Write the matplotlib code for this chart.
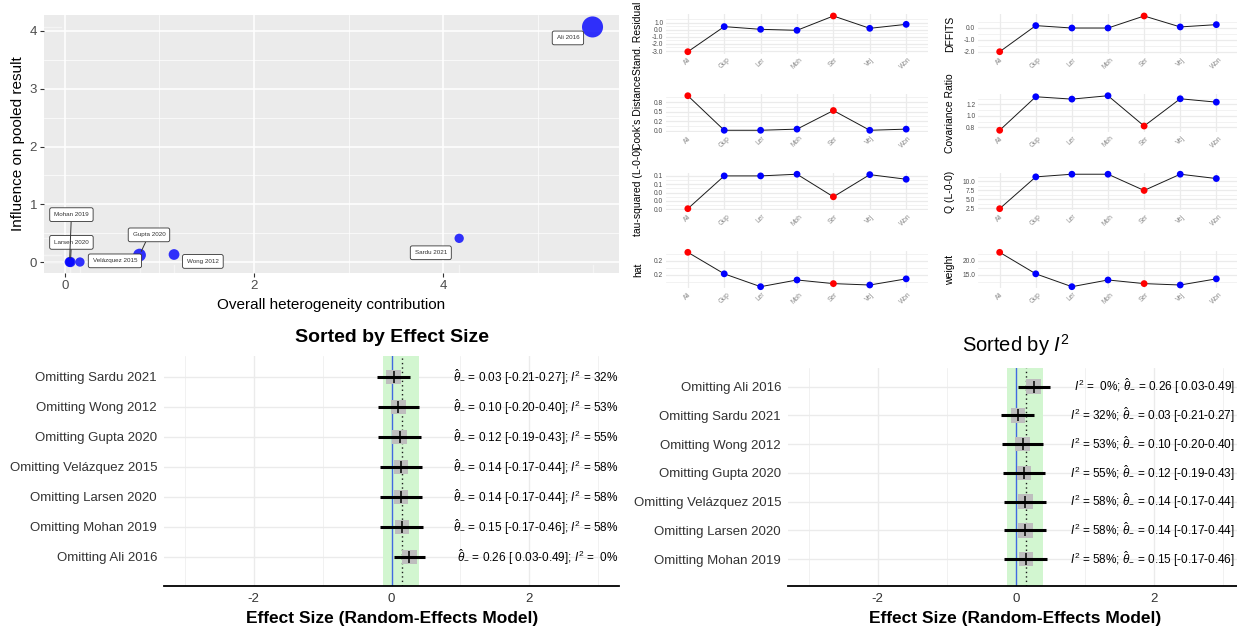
import numpy as np
import matplotlib
matplotlib.use("Agg")
import matplotlib.pyplot as plt
import matplotlib.transforms as mtransforms
from matplotlib.ticker import FixedLocator, FuncFormatter

W, H = 1237, 635
plt.rcParams['font.family'] = ['Liberation Sans', 'DejaVu Sans']
plt.rcParams['mathtext.fontset'] = 'custom'
plt.rcParams['mathtext.rm'] = 'Liberation Sans'
plt.rcParams['mathtext.it'] = 'Liberation Sans:italic'
plt.rcParams['mathtext.bf'] = 'Liberation Sans:bold'
plt.rcParams['axes.unicode_minus'] = False

# ---------------- data ----------------
# Baujat plot
baujat_studies = ["Ali 2016", "Sardu 2021", "Wong 2012", "Gupta 2020",
                  "Velázquez 2015", "Larsen 2020", "Mohan 2019"]
het_contrib = [5.58, 4.17, 1.155, 0.79, 0.16, 0.06, 0.05]
influence = [4.07, 0.41, 0.13, 0.12, 0.0, 0.0, 0.0]
point_size = [230, 45, 60, 85, 45, 55, 50]

# Influence diagnostics
inf_abbrev = ["Ali", "Gup", "Ler", "Moh", "Ser", "Vej", "Won"]
is_outlier = [True, False, False, False, True, False, False]
stand_resid = [-3.10, 0.44, 0.06, -0.08, 1.94, 0.20, 0.76]
dffits = [-2.00, 0.17, -0.03, -0.03, 0.97, 0.06, 0.25]
cooks_d = [0.92, 0.01, 0.01, 0.04, 0.53, 0.01, 0.04]
cov_ratio = [0.75, 1.335, 1.294, 1.353, 0.824, 1.30, 1.241]
tau2_del = [0.0016, 0.080, 0.080, 0.084, 0.030, 0.083, 0.072]
q_del = [2.41, 11.19, 11.92, 11.92, 7.44, 11.92, 10.73]
hat_vals = [0.231, 0.154, 0.108, 0.132, 0.119, 0.114, 0.136]
weight_vals = [23.1, 15.4, 10.8, 13.2, 11.9, 11.4, 13.6]

# Leave-one-out results
loo_studies = ["Sardu 2021", "Wong 2012", "Gupta 2020", "Velázquez 2015",
               "Larsen 2020", "Mohan 2019", "Ali 2016"]
loo_est = [0.03, 0.10, 0.12, 0.14, 0.14, 0.15, 0.26]
loo_lo = [-0.21, -0.20, -0.19, -0.17, -0.17, -0.17, 0.03]
loo_hi = [0.27, 0.40, 0.43, 0.44, 0.44, 0.46, 0.49]
loo_i2 = [32, 53, 55, 58, 58, 58, 0]
pooled_est = 0.15
pooled_lo = -0.13
pooled_hi = 0.40

# ---------------- figure ----------------
fig = plt.figure(figsize=(W / 100, H / 100), dpi=100)


def add_ax(l, t, r, b):
    return fig.add_axes([l / W, 1 - b / H, (r - l) / W, (b - t) / H])


def ftext(x, y, s, **kw):
    return fig.text(x / W, 1 - y / H, s, **kw)


# ---------- Baujat plot (top-left) ----------
ax = add_ax(44, 15.4, 619, 272.7)
ax.set_facecolor('#EBEBEB')
for sp in ax.spines.values():
    sp.set_visible(False)
ax.set_xlim(-0.22, 5.86)
ax.set_ylim(-0.185, 4.27)
ax.xaxis.set_major_locator(FixedLocator([0, 2, 4]))
ax.xaxis.set_minor_locator(FixedLocator([1, 3, 5]))
ax.yaxis.set_major_locator(FixedLocator([0, 1, 2, 3, 4]))
ax.yaxis.set_minor_locator(FixedLocator([0.5, 1.5, 2.5, 3.5]))
ax.grid(which='major', color='white', lw=1.1)
ax.grid(which='minor', color='white', lw=0.5)
ax.set_axisbelow(True)
ax.tick_params(which='major', length=3, width=0.8, color='#333333',
               labelsize=9.5, labelcolor='#4D4D4D', pad=2)
ax.tick_params(which='minor', length=0)

for xv in het_contrib:
    ax.plot([xv, xv], [0, 0.03], transform=ax.get_xaxis_transform(),
            color='#F4F4F4', lw=1, zorder=1)
for yv in influence:
    ax.plot([0, 0.03], [yv, yv], transform=ax.get_yaxis_transform(),
            color='#F4F4F4', lw=1, zorder=1)

ax.scatter(het_contrib, influence, s=point_size, color='#0000FF', alpha=0.8,
           edgecolors='none', zorder=3)

label_layout = {
    "Ali 2016": (5.32, 3.88, False),
    "Sardu 2021": (3.87, 0.16, False),
    "Wong 2012": (1.46, 0.01, False),
    "Gupta 2020": (0.89, 0.47, True),
    "Velázquez 2015": (0.53, 0.02, False),
    "Larsen 2020": (0.07, 0.34, True),
    "Mohan 2019": (0.07, 0.82, True),
}
for name, xv, yv in zip(baujat_studies, het_contrib, influence):
    lx, ly, seg = label_layout[name]
    ap = dict(arrowstyle='-', lw=0.7, color='#333333', shrinkA=0, shrinkB=3) if seg else None
    ax.annotate(name, xy=(xv, yv), xytext=(lx, ly), ha='center', va='center',
                fontsize=4.5, color='#333333', zorder=5,
                bbox=dict(boxstyle='round,pad=0.7,rounding_size=0.3', fc='white',
                          ec='#333333', lw=0.6),
                arrowprops=ap)

ftext(331.5, 305, "Overall heterogeneity contribution", ha='center', va='center',
      fontsize=11, color='black')
ftext(18, 144, "Influence on pooled result", ha='center', va='center',
      rotation=90, fontsize=11, color='black')

# ---------- Influence diagnostics (top-right) ----------
fmt1 = FuncFormatter(lambda v, p: f"{v:.1f}")
fmt_up = FuncFormatter(lambda v, p: f"{v + 1e-9:.1f}")

panels = [
    (stand_resid, "Stand. Residual", [-3, -2, -1, 0, 1], fmt1, 0, 0),
    (dffits, "DFFITS", [-2, -1, 0], fmt1, 0, 1),
    (cooks_d, "Cook's Distance", [0, 0.25, 0.5, 0.75], fmt1, 1, 0),
    (cov_ratio, "Covariance Ratio", [0.8, 1.0, 1.2], fmt1, 1, 1),
    (tau2_del, "tau-squared (L-0-0)", [0, 0.02, 0.04, 0.06, 0.08], fmt1, 2, 0),
    (q_del, "Q (L-0-0)", [2.5, 5, 7.5, 10], fmt1, 2, 1),
    (hat_vals, "hat", [0.15, 0.20], fmt_up, 3, 0),
    (weight_vals, "weight", [15, 20], fmt1, 3, 1),
]
rows_px = [(14.2, 53.5), (94.0, 132.0), (172.5, 210.4), (250.6, 288.4)]
cols_px = [(666, 928), (978, 1238)]
ylabel_x = [638, 950]
xs = np.arange(len(inf_abbrev))
pt_colors = ['#FF0000' if o else '#0000FF' for o in is_outlier]

for vals, lab, ticks, fmt, r, c in panels:
    t, b = rows_px[r]
    l, rr = cols_px[c]
    a = add_ax(l, t, rr, b)
    for sp in a.spines.values():
        sp.set_visible(False)
    vmin, vmax = min(vals), max(vals)
    rng = vmax - vmin
    a.set_ylim(vmin - 0.05 * rng, vmax + 0.05 * rng)
    a.set_xlim(-0.6, len(inf_abbrev) - 0.4)
    step = ticks[1] - ticks[0]
    minors = [tk - step / 2 for tk in ticks] + [ticks[-1] + step / 2]
    a.yaxis.set_major_locator(FixedLocator(ticks))
    a.yaxis.set_minor_locator(FixedLocator(minors))
    a.yaxis.set_major_formatter(fmt)
    a.set_xticks(xs)
    a.set_xticklabels(inf_abbrev, rotation=45, ha='center', va='top')
    a.grid(which='major', color='#EBEBEB', lw=0.9)
    a.grid(which='minor', axis='y', color='#EBEBEB', lw=0.45)
    a.set_axisbelow(True)
    a.tick_params(axis='y', which='both', length=0, labelsize=4.8,
                  labelcolor='#4D4D4D', pad=2)
    a.tick_params(axis='x', length=0, labelsize=4.8, labelcolor='#8A8A8A', pad=2)
    a.plot(xs, vals, color='#1A1A1A', lw=0.7, zorder=2)
    a.scatter(xs, vals, c=pt_colors, s=24, edgecolors='none', zorder=3, clip_on=False)
    yc = (t + b) / 2
    if r == 0 and c == 0:
        yc = 38.5  # keep the long label inside the figure
    ftext(ylabel_x[c], yc, lab, rotation=90, ha='center', va='center',
          fontsize=7.5, color='black')


# ---------- Leave-one-out forest plots (bottom) ----------
def forest(box, order, texts, ylims, text_right_px):
    a = add_ax(*box)
    for sp in ['top', 'right', 'left']:
        a.spines[sp].set_visible(False)
    a.spines['bottom'].set_linewidth(1.3)
    a.spines['bottom'].set_color('black')
    n = len(order)
    ys = np.arange(1, n + 1)
    a.set_xlim(-3.3, 3.3)
    a.set_ylim(*ylims)
    a.xaxis.set_major_locator(FixedLocator([-2, 0, 2]))
    a.xaxis.set_minor_locator(FixedLocator([-3, -1, 1, 3]))
    a.set_yticks(ys)
    a.set_yticklabels(["Omitting " + loo_studies[i] for i in order])
    a.grid(which='major', color='#EBEBEB', lw=1.0)
    a.grid(which='minor', axis='x', color='#EBEBEB', lw=0.5)
    a.set_axisbelow(True)
    a.tick_params(axis='y', length=0, labelsize=9.5, labelcolor='#333333', pad=5)
    a.tick_params(axis='x', which='both', length=0, labelsize=9.5,
                  labelcolor='#333333', pad=5)
    a.axvspan(pooled_lo, pooled_hi, color='#D2F6D0', zorder=0.8, lw=0)
    a.axvline(0, color='#4169E1', lw=1.0, zorder=1)
    a.axvline(pooled_est, color='#1A1A1A', lw=1.0, ls=(0, (1, 2.2)), zorder=1)
    est = [loo_est[i] for i in order]
    lo = [loo_lo[i] for i in order]
    hi = [loo_hi[i] for i in order]
    a.scatter(est, ys, marker='s', s=110, color='#BEBEBE', edgecolors='none', zorder=2)
    a.hlines(ys, lo, hi, color='black', lw=2.2, zorder=3)
    a.scatter(est, ys, marker='|', s=85, color='black', linewidths=1.1, zorder=4)
    trans = mtransforms.blended_transform_factory(fig.transFigure, a.transData)
    for y, tx in zip(ys, texts):
        a.text(text_right_px / W, y, tx, transform=trans, ha='right', va='center',
               fontsize=8.5, color='black', clip_on=False)
    return a


order_es = list(np.argsort(loo_est, kind='stable'))
texts_es = [rf"$\hat{{\theta}}_{{-}}$ = {loo_est[i]:.2f} [{loo_lo[i]:5.2f}-{loo_hi[i]:.2f}]; "
            rf"$I^2$ = {loo_i2[i]:2d}%" for i in order_es]
forest((164, 356, 619, 586), order_es, texts_es, (7.97, 0.3), 618.5)
ftext(392, 338, "Sorted by Effect Size", ha='center', va='center', fontsize=14,
      fontweight='bold')
ftext(392, 618, "Effect Size (Random-Effects Model)", ha='center', va='center',
      fontsize=12.5, fontweight='bold')

order_i2 = list(np.argsort(loo_i2, kind='stable'))
texts_i2 = [rf"$I^2$ = {loo_i2[i]:2d}%; $\hat{{\theta}}_{{-}}$ = {loo_est[i]:.2f} "
            rf"[{loo_lo[i]:5.2f}-{loo_hi[i]:.2f}]" for i in order_i2]
forest((788, 368, 1243.5, 586), order_i2, texts_i2, (7.94, 0.35), 1235)
ftext(1015.5, 345, r"Sorted by $I^2$", ha='center', va='center', fontsize=14.5)
ftext(1015.5, 618, "Effect Size (Random-Effects Model)", ha='center', va='center',
      fontsize=12.5, fontweight='bold')

fig.savefig("out.png", dpi=100)
